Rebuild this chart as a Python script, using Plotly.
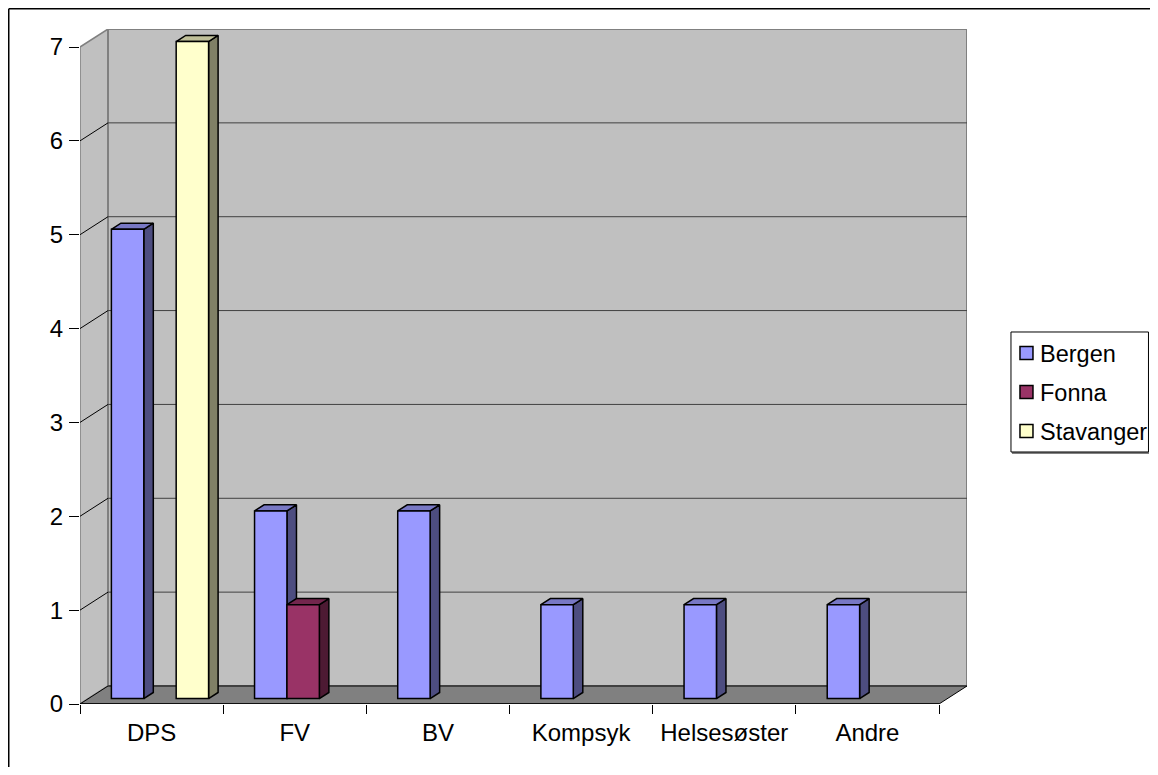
import plotly.graph_objects as go

# ---------------- data ----------------
categories = ["DPS", "FV", "BV", "Kompsyk", "Helsesøster", "Andre"]
series_names = ["Bergen", "Fonna", "Stavanger"]
bergen = [5, 2, 2, 1, 1, 1]
fonna = [0, 1, 0, 0, 0, 0]
stavanger = [7, 0, 0, 0, 0, 0]
y_ticks = [0, 1, 2, 3, 4, 5, 6, 7]

# ---------------- styling ----------------
front_colors = ["#9999FF", "#993366", "#FFFFCC"]
side_colors = ["#4D4D80", "#4D1A33", "#808066"]
top_colors = ["#7878C4", "#73264D", "#BFBF99"]
FONT = "Liberation Sans, Arial, sans-serif"
FS = 24

OFF = 8                      # browser body margin
W, H = 1158 - 2 * OFF, 775 - 2 * OFF
PX_X = 143.17                # px per category
PX_Y = 93.857                # px per unit value
DEPTH_PX = (28.0, 18.0)
dxu = DEPTH_PX[0] / PX_X
dyu = DEPTH_PX[1] / PX_Y
ymax = 7
n = len(categories)
xr = [-0.5, n - 0.5 + dxu]
yr = [0, ymax + dyu]
left = 80 - OFF
plot_w = (xr[1] - xr[0]) * PX_X
plot_h = (yr[1] - yr[0]) * PX_Y
bottom_px = 704 - OFF
margin = dict(l=left, r=W - left - plot_w, t=bottom_px - plot_h, b=H - bottom_px,
              autoexpand=False)

def vx(px):  # viewport px -> paper x
    return (px - OFF - left) / plot_w

def vy(py):  # viewport px -> paper y
    return (bottom_px - (py - OFF)) / plot_h

bw = 0.2263          # bar width in category units
f1, f2 = 0.30, 0.64  # bar front/back depth fraction

fig = go.Figure()
values = [bergen, fonna, stavanger]

# side and top faces (base axes)
for k, vals in enumerate(values):
    sx, sy, tx, ty = [], [], [], []
    for i, v in enumerate(vals):
        if not v:
            continue
        c = i + f1 * dxu + (k - 1) * bw
        b0 = f1 * dyu
        ddx = (f2 - f1) * dxu
        ddy = (f2 - f1) * dyu
        r = c + bw / 2
        l = c - bw / 2
        sx += [r, r, r + ddx, r + ddx, r, None]
        sy += [b0, b0 + v, b0 + v + ddy, b0 + ddy, b0, None]
        tx += [l, r, r + ddx, l + ddx, l, None]
        ty += [b0 + v, b0 + v, b0 + v + ddy, b0 + v + ddy, b0 + v, None]
    fig.add_trace(go.Scatter(x=sx, y=sy, mode="lines", fill="toself",
                             fillcolor=side_colors[k],
                             line=dict(color="black", width=1.5),
                             showlegend=False, hoverinfo="skip"))
    fig.add_trace(go.Scatter(x=tx, y=ty, mode="lines", fill="toself",
                             fillcolor=top_colors[k],
                             line=dict(color="black", width=1.5),
                             showlegend=False, hoverinfo="skip"))

# front faces (overlay axes, drawn above)
for k, vals in enumerate(values):
    xs, ys = [], []
    for i, v in enumerate(vals):
        if not v:
            continue
        xs.append(i + f1 * dxu + (k - 1) * bw)
        ys.append(v)
    fig.add_trace(go.Bar(x=xs, y=ys, base=f1 * dyu, width=bw,
                         name=series_names[k], showlegend=False,
                         marker=dict(color=front_colors[k],
                                     line=dict(color="black", width=1.5)),
                         xaxis="x2", yaxis="y2"))

shapes = []
x0 = -0.5
# left wall
shapes.append(dict(type="path", xref="x", yref="y", layer="below",
                   path=f"M {x0},0 L {x0},{ymax} L {x0+dxu},{ymax+dyu} L {x0+dxu},{dyu} Z",
                   fillcolor="#C0C0C0", line=dict(color="#808080", width=1.5)))
# back wall
shapes.append(dict(type="rect", xref="x", yref="y", layer="below",
                   x0=x0 + dxu, x1=n - 0.5 + dxu, y0=dyu, y1=ymax + dyu,
                   fillcolor="#C0C0C0", line=dict(color="#808080", width=2)))
# gridlines
for v in y_ticks[1:-1]:
    shapes.append(dict(type="line", xref="x", yref="y", layer="below",
                       x0=x0 + dxu, x1=n - 0.5 + dxu, y0=v + dyu, y1=v + dyu,
                       line=dict(color="#404040", width=1)))
    shapes.append(dict(type="line", xref="x", yref="y", layer="below",
                       x0=x0, x1=x0 + dxu, y0=v, y1=v + dyu,
                       line=dict(color="black", width=1)))
# floor
shapes.append(dict(type="path", xref="x", yref="y", layer="below",
                   path=f"M {x0},0 L {n-0.5},0 L {n-0.5+dxu},{dyu} L {x0+dxu},{dyu} Z",
                   fillcolor="#808080", line=dict(color="black", width=1)))
# front category axis line
shapes.append(dict(type="line", xref="x", yref="y", layer="above",
                   x0=x0, x1=n - 0.5, y0=0, y1=0,
                   line=dict(color="black", width=1.5)))

# outer chart frame (top and left edges visible)
shapes.append(dict(type="line", xref="paper", yref="paper",
                   x0=vx(OFF + 0.75), x1=vx(1170), y0=vy(OFF + 0.75), y1=vy(OFF + 0.75),
                   line=dict(color="black", width=1.5)))
shapes.append(dict(type="line", xref="paper", yref="paper",
                   x0=vx(OFF + 0.75), x1=vx(OFF + 0.75), y0=vy(OFF + 0.75), y1=vy(790),
                   line=dict(color="black", width=1.5)))

# legend (box, swatches, labels)
annotations = []
LX0, LX1 = 1011, 1148.5
shapes.append(dict(type="line", xref="paper", yref="paper",
                   x0=vx(LX0 + 1), x1=vx(LX1 + 0.5), y0=vy(453), y1=vy(453),
                   line=dict(color="#808080", width=2)))
shapes.append(dict(type="rect", xref="paper", yref="paper",
                   x0=vx(LX0), x1=vx(LX1), y0=vy(332), y1=vy(452),
                   fillcolor="white", line=dict(color="black", width=1)))
rows = [353, 392, 431]
for k, name in enumerate(series_names):
    yc = rows[k]
    shapes.append(dict(type="rect", xref="paper", yref="paper",
                       x0=vx(1020), x1=vx(1033), y0=vy(yc - 6.5), y1=vy(yc + 6.5),
                       fillcolor=front_colors[k], line=dict(color="black", width=1.5)))
    annotations.append(dict(xref="paper", yref="paper", x=vx(1038), y=vy(yc + 1),
                            xanchor="left", yanchor="middle", showarrow=False,
                            text=name, font=dict(family=FONT, size=23.5, color="black")))

fig.update_layout(
    width=W, height=H, margin=margin,
    paper_bgcolor="white", plot_bgcolor="white",
    barmode="overlay",
    font=dict(family=FONT, size=FS, color="black"),
    shapes=shapes, annotations=annotations,
    xaxis=dict(range=xr, tickvals=list(range(n)), ticktext=categories,
               ticks="", showgrid=False, zeroline=False, showline=False,
               ticklabelstandoff=12, automargin=False,
               minor=dict(tickvals=[i - 0.5 for i in range(n + 1)], ticks="outside",
                          ticklen=9, tickcolor="black", tickwidth=1, showgrid=False),
               tickfont=dict(family=FONT, size=FS, color="black")),
    yaxis=dict(range=yr, tickvals=y_ticks, ticks="outside", ticklen=10,
               tickcolor="black", tickwidth=1, showgrid=False, zeroline=False,
               showline=False, ticklabelstandoff=1, automargin=False,
               tickfont=dict(family=FONT, size=FS, color="black")),
    xaxis2=dict(range=xr, overlaying="x", visible=False),
    yaxis2=dict(range=yr, overlaying="y", visible=False),
    showlegend=False,
)

fig.write_html("out.html")
